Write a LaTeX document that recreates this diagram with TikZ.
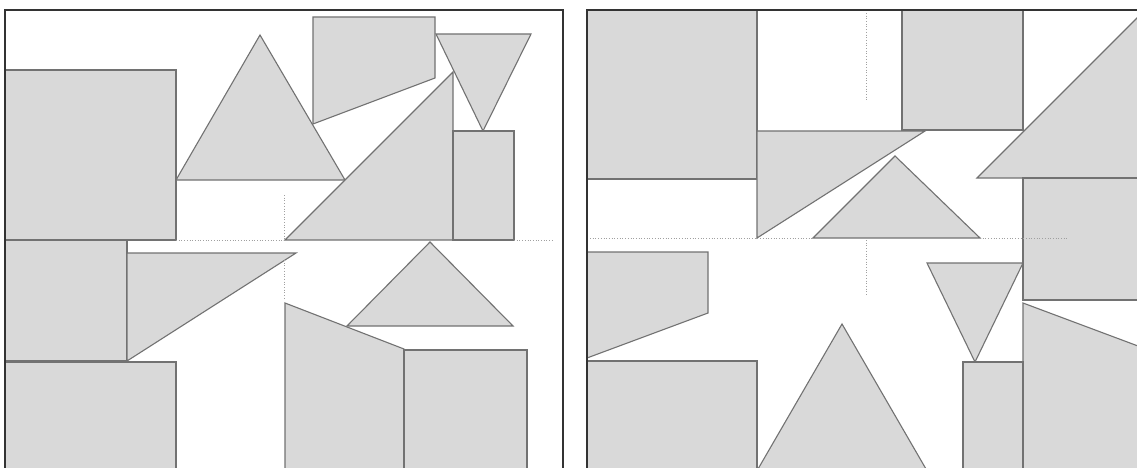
\documentclass[tikz,border=0pt]{standalone}
\definecolor{piecefill}{HTML}{D9D9D9}
\definecolor{pieceedge}{HTML}{727272}
\definecolor{framecol}{HTML}{333333}
\definecolor{guidecol}{HTML}{A0A0A0}
\begin{document}
\begin{tikzpicture}[x=1pt,y=-1pt,
  piece/.style={fill=piecefill, draw=pieceedge, line width=1.1pt, line join=miter},
  panelframe/.style={draw=framecol, line width=1.4pt},
  guide/.style={draw=guidecol, dotted, line width=0.7pt}]
\useasboundingbox (0,0) rectangle (1137,468);
\fill[white] (0,0) rectangle (1137,468);
\clip (0,0) rectangle (1137,468);
% ---------- left panel ----------
\draw[piece] (5,70) rectangle (176,240);
\draw[piece] (260,35) -- (345,180) -- (176,180) -- cycle;
\draw[piece] (313,17) -- (435,17) -- (435,78) -- (313,124) -- cycle;
\draw[piece] (436,34) -- (531,34) -- (483,131) -- cycle;
\draw[piece] (285,240) -- (453,72) -- (453,240) -- cycle;
\draw[piece] (453,131) rectangle (514,240);
\draw[piece] (5,240) rectangle (127,361);
\draw[piece] (127,253) -- (296,253) -- (127,361) -- cycle;
\draw[piece] (5,362) rectangle (176,480);
\draw[piece] (430,242) -- (513,326) -- (347,326) -- cycle;
\draw[piece] (285,303) -- (404,349) -- (404,480) -- (285,480) -- cycle;
\draw[piece] (404,350) rectangle (527,480);
\draw[guide] (176,240) -- (285,240);
\draw[guide] (514,240) -- (553,240);
\draw[guide] (284,195) -- (284,240);
\draw[guide] (284,260) -- (284,300);
\draw[panelframe] (5,480) -- (5,10) -- (563,10) -- (563,480);
% ---------- right panel ----------
\draw[piece] (587,10) rectangle (757,179);
\draw[piece] (757,131) -- (925,131) -- (757,238) -- cycle;
\draw[piece] (895,156) -- (980,238) -- (813,238) -- cycle;
\draw[piece] (902,10) rectangle (1023,130);
\draw[piece] (977,178) -- (1145,10) -- (1145,178) -- cycle;
\draw[piece] (1023,178) rectangle (1145,300);
\draw[piece] (1023,303) -- (1146,349) -- (1146,480) -- (1023,480) -- cycle;
\draw[piece] (927,263) -- (1023,263) -- (975,362) -- cycle;
\draw[piece] (963,362) rectangle (1023,480);
\draw[piece] (842,324) -- (926,469) -- (758,469) -- cycle;
\draw[piece] (587,252) -- (708,252) -- (708,313) -- (587,358) -- cycle;
\draw[piece] (587,361) rectangle (757,480);
\draw[guide] (590,238) -- (813,238);
\draw[guide] (980,238) -- (1068,238);
\draw[guide] (866,13) -- (866,100);
\draw[guide] (866,240) -- (866,295);
\draw[panelframe] (587,480) -- (587,10) -- (1150,10);
\end{tikzpicture}
\end{document}
